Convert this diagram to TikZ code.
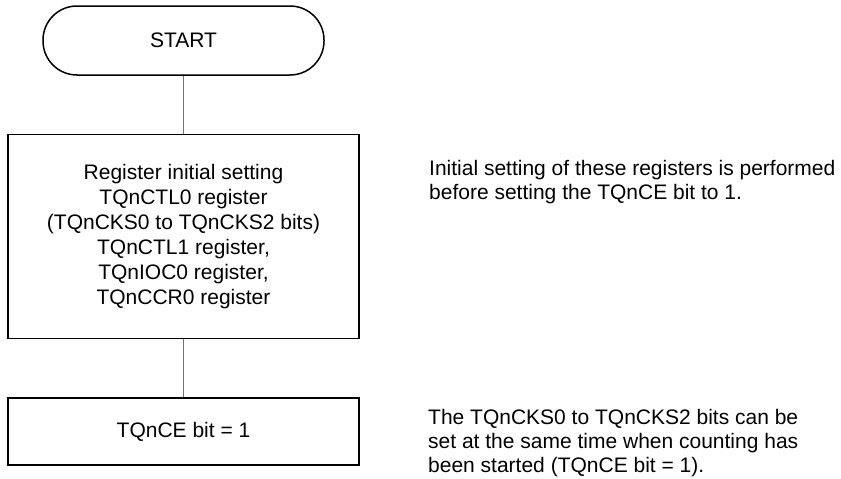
\documentclass[tikz,border=0pt]{standalone}
\usepackage{fontspec}
\setmainfont{Liberation Sans}
\usetikzlibrary{positioning}

\begin{document}
\begin{tikzpicture}[
    x=1pt, y=-1pt,
    node distance=58pt,
    font=\fontsize{21}{25}\selectfont,
    termbox/.style={rectangle, rounded corners=34pt, draw=black, line width=1.5pt, minimum width=281pt, minimum height=69pt, align=center},
    stepbox/.style={rectangle, draw=black, line width=1.5pt, minimum width=351pt, align=center},
    note/.style={inner sep=0pt, align=left, font=\fontsize{21}{24}\selectfont},
    link/.style={black!55, line width=1pt}
]
\useasboundingbox (0,0) rectangle (841,479);

\node[termbox] (start) at (183.5,40.5) {START};
\node[stepbox, minimum height=204pt, below=of start] (init) {Register initial setting\\TQnCTL0 register\\(TQnCKS0 to TQnCKS2 bits)\\TQnCTL1 register,\\TQnIOC0 register,\\TQnCCR0 register};
\node[stepbox, minimum height=67pt, below=of init] (enable) {TQnCE bit = 1};

\draw[link] (start) -- (init);
\draw[link] (init) -- (enable);

% Remarks (base = last line)
\node[note, anchor=base west] (initnote) at (429,199.5) {Initial setting of these registers is performed\\before setting the TQnCE bit to 1.};
\node[note, anchor=base west] (enablenote) at (428,472) {The TQnCKS0 to TQnCKS2 bits can be\\set at the same time when counting has\\been started (TQnCE bit = 1).};

\end{tikzpicture}
\end{document}
